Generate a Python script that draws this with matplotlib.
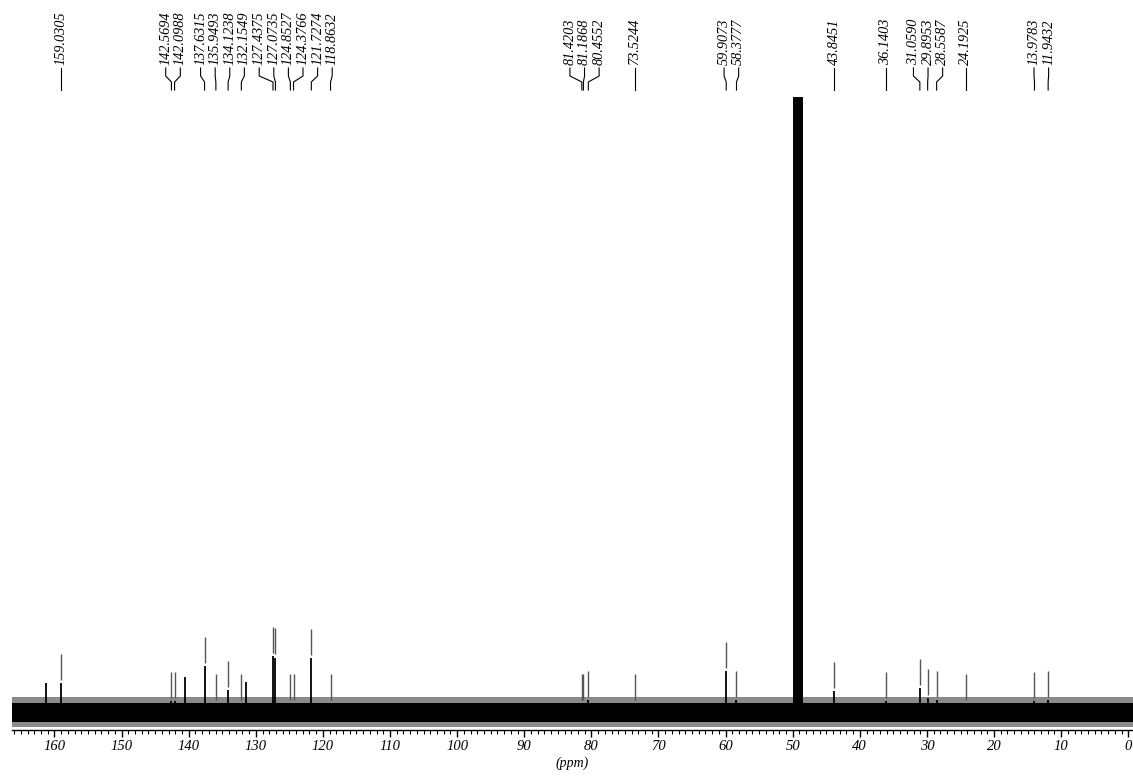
import numpy as np
import matplotlib
matplotlib.use("Agg")
import matplotlib.pyplot as plt
from matplotlib.lines import Line2D

# picked peaks (ppm) and their heights (1.0 = top of the plot)
peak_ppm = [159.0305, 142.5694, 142.0988, 137.6315, 135.9493, 134.1238, 132.1549,
            127.4375, 127.0735, 124.8527, 124.3766, 121.7274, 118.8632,
            81.4203, 81.1868, 80.4552, 73.5244, 59.9073, 58.3777,
            43.8451, 36.1403, 31.0590, 29.8953, 28.5587, 24.1925, 13.9783, 11.9432]
peak_height = [0.052, 0.023, 0.023, 0.079, 0.020, 0.041, 0.020,
               0.095, 0.093, 0.020, 0.020, 0.092, 0.020,
               0.020, 0.020, 0.024, 0.020, 0.071, 0.024,
               0.039, 0.022, 0.044, 0.027, 0.024, 0.020, 0.022, 0.024]

# peaks without a label
other_ppm = [161.3, 140.5, 131.5]
other_height = [0.052, 0.061, 0.053]

# CD3OD septet, runs far off the top
solvent_ppm = [49.83, 49.62, 49.41, 49.20, 48.99, 48.78, 48.57]
solvent_height = [2.0, 6.0, 12.0, 14.0, 12.0, 6.0, 2.0]

# noise level of the baseline
noise_lo, noise_hi = -0.012, 0.019
fringe_lo, fringe_hi = -0.019, 0.029

W, H = 1133, 778
serif = "Liberation Serif"

fig = plt.figure(figsize=(W / 100, H / 100), dpi=100)
ax = fig.add_axes([11.5 / W, 1 - 730 / H, (W - 11.5) / W, (730 - 97) / H])
ax.set_xlim(166.4, -0.7)
ax.set_ylim(-0.0243, 1.0)

xr = [166.4, -0.7]
ax.fill_between(xr, fringe_lo, fringe_hi, color="#8a8a8a", lw=0)
ax.fill_between(xr, noise_lo, noise_hi, color="black", lw=0)

ax.vlines(peak_ppm, 0, peak_height, color="black", lw=1.3)
ax.vlines(other_ppm, 0, other_height, color="black", lw=1.3)
ax.vlines(solvent_ppm, 0, solvent_height, color="black", lw=1.4)

# peak-pick markers above each picked peak
ph = np.array(peak_height)
ax.vlines(peak_ppm, ph + 0.005, ph + 0.047, color="#555555", lw=1.0)

for s in ["top", "left", "right"]:
    ax.spines[s].set_visible(False)
ax.spines["bottom"].set_linewidth(1.0)
ax.set_yticks([])
ax.set_xticks(np.arange(0, 161, 10))
ax.set_xticks(np.arange(0, 167, 1), minor=True)
ax.tick_params(axis="x", which="major", length=5, width=1, pad=2, direction="out")
ax.tick_params(axis="x", which="minor", length=3, width=0.8, direction="out")
for t in ax.get_xticklabels():
    t.set_fontfamily(serif)
    t.set_fontstyle("italic")
    t.set_fontsize(10.5)
ax.set_xlabel("(ppm)", fontfamily=serif, fontstyle="italic", fontsize=10, labelpad=3)

# label layout: spread labels so they do not overlap
fig.canvas.draw()
px = ax.transData.transform(np.column_stack([peak_ppm, np.zeros(len(peak_ppm))]))[:, 0]
order = np.argsort(px)
xs = px[order]
d = 14.6
groups = [[i] for i in range(len(xs))]


def place(g):
    n = len(g)
    c = np.mean(xs[g])
    return c + (np.arange(n) - (n - 1) / 2) * d


merged = True
while merged:
    merged = False
    for k in range(len(groups) - 1):
        if place(groups[k])[-1] + d > place(groups[k + 1])[0] + 0.01:
            groups[k] = groups[k] + groups[k + 1]
            del groups[k + 1]
            merged = True
            break

lab_x = np.zeros(len(xs))
for g in groups:
    lab_x[g] = place(g)

for j, i in enumerate(order):
    peak_x = xs[j] / W
    lx = lab_x[j] / W
    ys = [1 - 68 / H, 1 - 76 / H, 1 - 82 / H, 1 - 90 / H]
    fig.add_artist(Line2D([lx, lx, peak_x, peak_x], ys, color="black", lw=0.8,
                          solid_joinstyle="miter", transform=fig.transFigure))
    fig.text(lx, 1 - 65 / H, f"{peak_ppm[i]:.4f}", rotation=90, ha="center", va="bottom",
             fontfamily=serif, fontstyle="italic", fontsize=10.3)

fig.savefig("out.png", dpi=100)
